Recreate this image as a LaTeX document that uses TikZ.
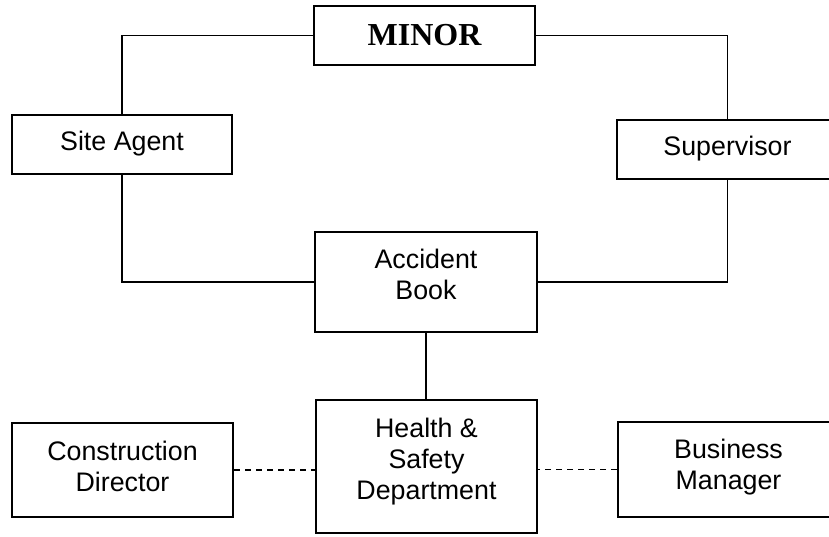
\documentclass[tikz,border=0pt]{standalone}
\usepackage{fontspec}
\setmainfont{Liberation Sans}
\newfontfamily\titlefont{Liberation Serif}
\usetikzlibrary{positioning}

\begin{document}
\begin{tikzpicture}[
  x=0.5pt, y=-0.5pt,
  line cap=rect,
  box/.style={rectangle, draw=black, line width=1pt, inner sep=0pt,
    minimum width=110.5pt},
  txt/.style={inner sep=0pt, align=center, font=\fontsize{13.4}{15.3}\selectfont},
  link/.style={draw=black, line width=0.9pt},
  dlink/.style={link, dash pattern=on 3pt off 2.5pt, line cap=butt},
]
  \clip (0,0) rectangle (829,536);
  % Top of the chain
  \node[box, minimum height=29.5pt] (minor) at (424.5,35.5)
    {\titlefont\bfseries\fontsize{16}{18}\selectfont MINOR};
  \node[box, minimum width=110pt, minimum height=29.5pt] (agent) at (122,144.5) {};
  \node[box, minimum height=29.5pt] (sup) at (727.5,149.5) {};
  % Middle and bottom row
  \node[box, minimum width=111pt, minimum height=50pt] (book) at (426,282) {};
  \node[box, minimum height=66.5pt] (hsd) at (426.5,466.5) {};
  \node[box, minimum height=47pt] (cdir) at (122.5,470) {};
  \node[box, minimum height=47.5pt] (bman) at (728.5,469.5) {};
  % Texts sit at the top of each box
  \node[txt, below=8.5pt of agent.north] (agentT) {Site Agent};
  \node[txt, below=8.5pt of sup.north] (supT) {Supervisor};
  \node[txt, below=9pt of book.north] (bookT) {Accident\\Book};
  \node[txt, below=9.5pt of hsd.north] (hsdT) {Health \&\\Safety\\Department};
  \node[txt, below=9.5pt of cdir.north] (cdirT) {Construction\\Director};
  \node[txt, below=9pt of bman.north] (bmanT) {Business\\Manager};
  % Connectors
  \draw[link] (minor.west) -| (agent.north);
  \draw[link] (minor.east) -| (sup.north);
  \draw[link] (agent.south) |- (book.west);
  \draw[link] (sup.south) |- (book.east);
  \draw[link] (book.south) -- (book.south |- hsd.north);
  \draw[dlink] (cdir.east) -- (cdir.east -| hsd.west);
  \draw[dlink] (bman.west) -- (bman.west -| hsd.east);
\end{tikzpicture}
\end{document}
